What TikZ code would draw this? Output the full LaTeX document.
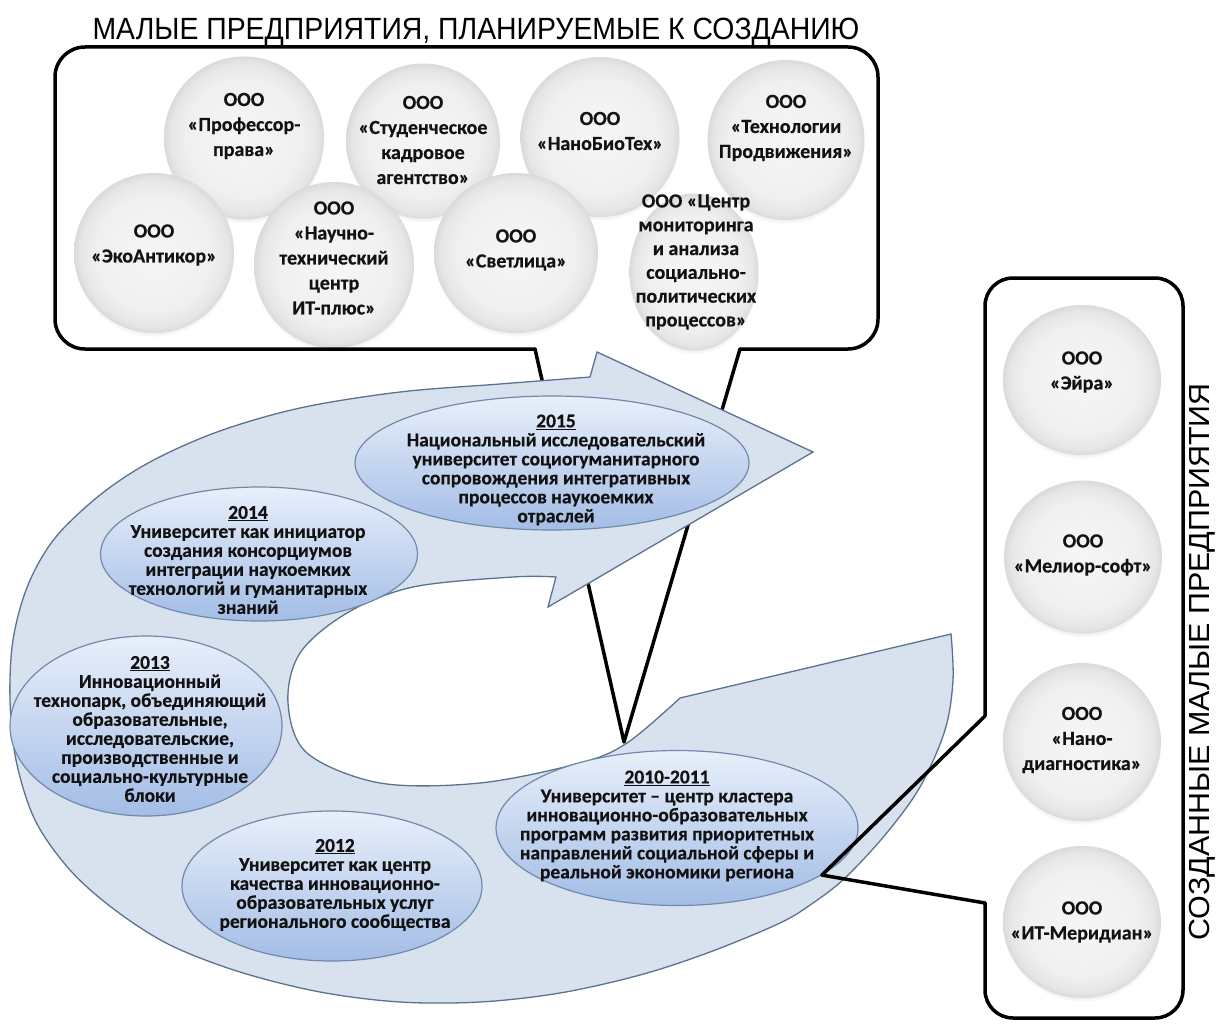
\documentclass[tikz,border=0pt]{standalone}
\usepackage{fontspec}
\setmainfont{Carlito}[BoldFeatures={FakeBold=0.4}]
\newfontfamily\titlefont[FakeStretch=0.925]{Liberation Sans}
\newfontfamily\sidefont[FakeStretch=1.05]{Liberation Sans}
\usetikzlibrary{shapes.geometric,shadows,fadings}
\definecolor{bandfill}{HTML}{D8E1EE}
\definecolor{bandline}{HTML}{5B7390}
\definecolor{elltop}{HTML}{E8EFFA}
\definecolor{ellbot}{HTML}{A3BDE6}
\definecolor{ellline}{HTML}{7089AD}
\definecolor{txt}{HTML}{121212}
\definecolor{sphA}{HTML}{F6F6F6}
\definecolor{sphB}{HTML}{F0F0F0}
\definecolor{sphC}{HTML}{E6E6E6}
\definecolor{sphD}{HTML}{D4D4D4}
\pgfdeclareradialshading{sphereshade}{\pgfpoint{0bp}{0bp}}{%
  color(0bp)=(sphA); color(18bp)=(sphB); color(23bp)=(sphC); color(26bp)=(sphD); color(50bp)=(sphD)}
\tikzset{
  boxline/.style={line width=3.5pt, draw=black, line cap=round, line join=round},
  sphere/.style={shape=ellipse, inner sep=0pt, shade, shading=sphereshade,
    circular drop shadow={shadow xshift=0pt, shadow yshift=-4pt, shadow scale=1.0, opacity=0.3, fill=black!50}},
  ctext/.style={align=center, inner sep=0pt, text=txt, font=\bfseries\fontsize{20}{25}\selectfont},
  blob/.style={shape=ellipse, inner sep=0pt, draw=ellline, line width=1.2pt, top color=elltop, bottom color=ellbot},
  etext/.style={align=center, inner sep=0pt, text=txt, font=\bfseries\fontsize{19.5}{19}\selectfont},
}
\begin{document}
\begin{tikzpicture}[x=1pt,y=-1pt]
\useasboundingbox (0,0) rectangle (1224,1025);
\fill[white] (0,0) rectangle (1224,1025);

% top title
\node[anchor=base, inner sep=0pt, font=\titlefont\fontsize{30.7}{31}\selectfont] (toptitle) at (476,40) {МАЛЫЕ ПРЕДПРИЯТИЯ, ПЛАНИРУЕМЫЕ К СОЗДАНИЮ};

% planned enterprises (row 1)
\node[sphere, minimum width=160pt, minimum height=163pt] (c1) at (244,138) {};
\node[sphere, minimum width=154pt, minimum height=155pt] (c2) at (423,141) {};
\node[sphere, minimum width=159pt, minimum height=160pt] (c3) at (600,137) {};
\node[sphere, minimum width=157pt, minimum height=160pt] (c4) at (786,140) {};
\node[ctext] (t1) at (244,126) {ООО\\«Профессор-\\права»};
\node[ctext] (t2) at (423,140) {ООО\\«Студенческое\\кадровое\\агентство»};
\node[ctext] (t3) at (600,131) {ООО\\«НаноБиоТех»};
\node[ctext] (t4) at (786,128) {ООО\\«Технологии\\Продвижения»};
% row 2
\node[sphere, minimum width=160pt, minimum height=160pt] (c5) at (154,253) {};
\node[sphere, minimum width=160pt, minimum height=166pt] (c6) at (334,265) {};
\node[sphere, minimum width=164pt, minimum height=160pt] (c7) at (516,253) {};
\node[sphere, minimum width=129pt, minimum height=157pt] (c8) at (694,272) {};
\node[ctext] (t5) at (154,245) {ООО\\«ЭкоАнтикор»};
\node[ctext] (t6) at (334,258) {ООО\\«Научно-\\технический\\центр\\ИТ-плюс»};
\node[ctext] (t7) at (516,250) {ООО\\«Светлица»};
\node[ctext, font=\bfseries\fontsize{20}{23.8}\selectfont] (t8) at (696,262) {ООО «Центр\\мониторинга\\и анализа\\социально-\\политических\\процессов»};

% top callout box
\coordinate (tl) at (535,349);
\coordinate (tr) at (740,349);
\coordinate (ptip) at (624,742);
\draw[boxline, rounded corners=30pt] (tl) -- (55,349) -- (55,47) -- (878,47) -- (878,349) -- (tr);
\draw[boxline] (tl) -- (ptip) -- (tr);

% spiral arrow
\filldraw[fill=bandfill, draw=bandline, line width=1.3pt, line join=miter]
 (813,452) -- (597,352) -- (590,377)
 -- plot[smooth, tension=0.55] coordinates {(590,377) (500,384) (400,392) (300,408) (217,432) (150,462) (100,495) (55,538) (28,585) (13,640) (10,700) (16,760) (35,820) (70,870) (115,910) (170,945) (240,972) (320,992) (400,1002) (480,1002) (560,993) (640,975) (710,952) (780,923) (813,903) (845,878) (885,835) (920,787) (945,730) (953,680) (951,634)}
 -- (680,698)
 -- plot[smooth, tension=0.55] coordinates {(680,698) (627,743) (580,763) (480,783) (380,783) (307,753) (288,703) (300,653) (347,613) (413,587) (513,577) (556,577)}
 -- (548,607) -- cycle;

% stage ellipses
\node[blob, minimum width=394pt, minimum height=134pt] (e2015) at (552,463) {};
\node[blob, minimum width=317pt, minimum height=134pt] (e2014) at (259,554) {};
\node[blob, minimum width=272pt, minimum height=180pt] (e2013) at (146,726) {};
\node[blob, minimum width=300pt, minimum height=150pt] (e2012) at (332,886) {};
\node[blob, minimum width=362pt, minimum height=155pt] (e2010) at (677,828) {};

\node[etext] (t2015) at (556,470) {\underline{2015}\\Национальный исследовательский\\университет социогуманитарного\\сопровождения интегративных\\процессов наукоемких\\отраслей};
\node[etext] (t2014) at (248,560) {\underline{2014}\\Университет как инициатор\\создания консорциумов\\интеграции наукоемких\\технологий и гуманитарных\\знаний};
\node[etext] (t2013) at (150,729) {\underline{2013}\\Инновационный\\технопарк, объединяющий\\образовательные,\\исследовательские,\\производственные и\\социально-культурные\\блоки};
\node[etext] (t2012) at (335,885) {\underline{2012}\\Университет как центр\\качества инновационно-\\образовательных услуг\\регионального сообщества};
\node[etext] (t2010) at (667,826) {\underline{2010-2011}\\Университет – центр кластера\\инновационно-образовательных\\программ развития приоритетных\\направлений социальной сферы и\\реальной экономики региона};

% right callout box
\coordinate (ru) at (985,716);
\coordinate (rd) at (985,903);
\coordinate (rq) at (e2010.-18);
\draw[boxline, rounded corners=28pt] (ru) -- (985,278) -- (1183,278) -- (1183,1018) -- (985,1018) -- (rd);
\draw[boxline] (rd) -- (rq) -- (ru);

% created enterprises
\node[sphere, minimum width=158pt, minimum height=150pt] (r1) at (1082,380) {};
\node[sphere, minimum width=158pt, minimum height=153pt] (r2) at (1083,557) {};
\node[sphere, minimum width=158pt, minimum height=158pt] (r3) at (1082,742) {};
\node[sphere, minimum width=158pt, minimum height=152pt] (r4) at (1082,922) {};
\node[ctext] (s1) at (1082,372) {ООО\\«Эйра»};
\node[ctext] (s2) at (1083,555) {ООО\\«Мелиор-софт»};
\node[ctext] (s3) at (1082,740) {ООО\\«Нано-\\диагностика»};
\node[ctext] (s4) at (1082,922) {ООО\\«ИТ-Меридиан»};

% side title
\node[rotate=90, inner sep=0pt, font=\sidefont\fontsize{29}{29}\selectfont] (sidetitle) at (1202,662) {СОЗДАННЫЕ МАЛЫЕ ПРЕДПРИЯТИЯ};
\end{tikzpicture}
\end{document}
